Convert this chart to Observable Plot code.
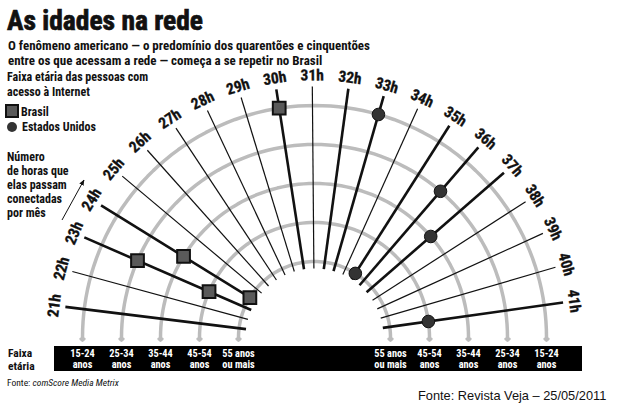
<!DOCTYPE html>
<html><head><meta charset="utf-8">
<script src="https://cdn.jsdelivr.net/npm/d3@7"></script>
<script src="https://cdn.jsdelivr.net/npm/@observablehq/plot@0.6"></script>
<style>
body{margin:0;background:#fff;}
#wrap{position:relative;width:618px;height:407px;overflow:hidden;background:#fff;
  font-family:"Liberation Sans Narrow","Roboto Condensed","DejaVu Sans Condensed",sans-serif;}
#chart{position:absolute;left:0;top:0;}
.t{position:absolute;white-space:nowrap;color:#111;font-weight:bold;}
.sq{display:inline-block;width:10px;height:10px;border:2px solid #111;background:#595959;vertical-align:-2px;margin-right:2px;}
.ci{display:inline-block;width:10px;height:10px;border-radius:50%;background:#333;vertical-align:-1px;margin-right:5px;margin-left:2px;}
</style></head><body>
<div id="wrap">
<div id="chart"></div>
<div class="t" style="left:7px;top:7px;font-size:27.5px;line-height:27px;-webkit-text-stroke:0.7px #111;">As idades na rede</div>
<div class="t" style="left:8px;top:38px;font-size:13px;line-height:15px;">O fenômeno americano — o predomínio dos quarentões e cinquentões<br>entre os que acessam a rede — começa a se repetir no Brasil</div>
<div class="t" style="left:7px;top:70px;font-size:12px;line-height:15px;">Faixa etária das pessoas com<br>acesso à Internet</div>
<div class="t" style="left:5px;top:104px;font-size:12px;line-height:14px;"><span class="sq"></span>Brasil</div>
<div class="t" style="left:5px;top:120px;font-size:12px;line-height:14px;"><span class="ci"></span>Estados Unidos</div>
<div class="t" style="left:7px;top:150px;font-size:12px;line-height:14px;">Número<br>de horas que<br>elas passam<br>conectadas<br>por mês</div>
<svg style="position:absolute;left:0;top:0;" width="120" height="240">
  <defs><marker id="ah" viewBox="0 0 10 10" refX="9" refY="5" markerWidth="6" markerHeight="6" orient="auto"><path d="M0,1 L10,5 L0,9 z" fill="#111"/></marker></defs>
  <line x1="62" y1="220" x2="84" y2="180" stroke="#111" stroke-width="1" marker-end="url(#ah)"/>
</svg>
<div class="t" style="left:8px;top:347px;font-size:11.5px;line-height:13px;">Faixa<br>etária</div>
<div class="t" style="left:7px;top:377px;font-size:9.5px;line-height:11px;font-weight:normal;">Fonte: <i>comScore Media Metrix</i></div>
<div class="t" style="left:418px;top:389px;font-size:12.8px;line-height:14px;font-weight:normal;font-family:'Liberation Sans',Arial,sans-serif;">Fonte: Revista Veja – 25/05/2011</div>
</div>
<script>
// ---- data ----
const ages = ["15-24", "25-34", "35-44", "45-54", "55+"];
const ageLabels = ["15-24\nanos", "25-34\nanos", "35-44\nanos", "45-54\nanos", "55 anos\nou mais"];
const hours = [21, 22, 23, 24, 25, 26, 27, 28, 29, 30, 31, 32, 33, 34, 35, 36, 37, 38, 39, 40, 41];
const hourLabels = ["21h","22h","23h","24h","25h","26h","27h","28h","29h","30h","31h","32h","33h","34h","35h","36h","37h","38h","39h","40h","41h"];
const brasilHours = [30, 23, 24, 23, 24];
const euaHours = [33, 36, 37, 41, 35];

// ---- styling ----
const heavyRays = new Set([21, 32, ...brasilHours, ...euaHours]);
const font = "Liberation Sans Narrow, Roboto Condensed, DejaVu Sans Condensed, sans-serif";

// polar layout helpers
const radius = d3.scalePoint().domain(ages).range([232, 76]);
const angle = d3.scaleLinear().domain([21, 41]).range([173, 8]);
const rad = a => a * Math.PI / 180;
const px = (r, a) => r * Math.cos(rad(a));
const py = (r, a) => r * Math.sin(rad(a));
const rIn = 69, rOut = 251, rLab = 262;

const arcPts = ages.flatMap(age => {
  const r = radius(age);
  const pts = d3.range(180, -0.1, -2).map(a => ({age, x: px(r, a), y: py(r, a)}));
  return [{age, x: -r, y: -1}, ...pts, {age, x: r, y: -1}];
});
const arrowEnds = ages.flatMap(age => [-1, 1].map(s => ({age, x: s * radius(age)})));

const brasil = brasilHours.map((h, i) => ({age: ages[i], h}));
const eua = euaHours.map((h, i) => ({age: ages[i], h}));
const bandLabels = ages.flatMap((age, i) => [-1, 1].map(s => ({x: s * radius(age), label: ageLabels[i]})));
const outerR = radius(ages[0]);

const chart = Plot.plot({
  width: 618, height: 407,
  margin: 0,
  x: {domain: [-314, 304], axis: null},
  y: {domain: [-70, 337], axis: null},
  style: {background: "transparent", fontFamily: font},
  marks: [
    Plot.line(arcPts, {x: "x", y: "y", z: "age", stroke: "#bcbcbc", strokeWidth: 3.5, curve: "linear"}),
    Plot.arrow(arrowEnds, {x1: "x", y1: 4, x2: "x", y2: -3, stroke: "#bcbcbc", strokeWidth: 2.8, headLength: 9, headAngle: 100}),
    Plot.link(hours, {
      x1: h => px(rIn, angle(h)), y1: h => py(rIn, angle(h)),
      x2: h => px(rOut, angle(h)), y2: h => py(rOut, angle(h)),
      stroke: "#111", strokeWidth: h => heavyRays.has(h) ? 2.6 : 1.2
    }),
    Plot.text(hours, {
      x: h => px(rLab, angle(h)), y: h => py(rLab, angle(h)),
      text: (h, i) => hourLabels[i], rotate: h => 90 - angle(h),
      fontSize: 15.5, fontWeight: "bold", fill: "#111", stroke: "#111", strokeWidth: 0.3,
      textAnchor: "middle", lineAnchor: "middle"
    }),
    Plot.dot(brasil, {
      x: d => px(radius(d.age), angle(d.h)), y: d => py(radius(d.age), angle(d.h)),
      symbol: "square", r: 7.2, fill: "#5a5a5a", stroke: "#111", strokeWidth: 2
    }),
    Plot.dot(eua, {
      x: d => px(radius(d.age), angle(d.h)), y: d => py(radius(d.age), angle(d.h)),
      r: 6.3, fill: "#333", stroke: "#111", strokeWidth: 1
    }),
    Plot.rect([0], {x1: -(outerR + 28), x2: outerR + 36, y1: -9, y2: -34, fill: "#000"}),
    Plot.text(bandLabels, {
      x: "x", y: -21.5, text: "label", fill: "#fff", fontSize: 10.3, fontWeight: "bold",
      lineHeight: 1.12, textAnchor: "middle", lineAnchor: "middle"
    })
  ]
});
document.getElementById("chart").appendChild(chart);
</script>
</body></html>
